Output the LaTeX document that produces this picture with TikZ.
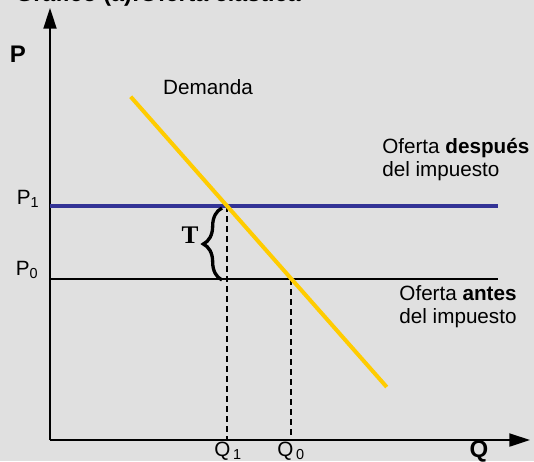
\documentclass[tikz,border=0pt]{standalone}
\usepackage{fontspec}
\setmainfont{Liberation Sans}
\newfontfamily\timesfont{Liberation Serif}
\usetikzlibrary{arrows.meta,calc,decorations.pathreplacing}
\definecolor{ecgray}{RGB}{224,224,224}
\definecolor{ecblue}{RGB}{51,51,150}
\definecolor{ecyellow}{RGB}{255,204,0}
\tikzset{
  axis/.style={line width=1.5pt,-{Triangle[length=15.5pt,width=9.75pt]}},
  dashline/.style={line width=1.1pt,dash pattern=on 4.5pt off 3pt},
  lbl/.style={inner sep=0pt},
  axislbl/.style={lbl,font=\fontsize{18}{20}\selectfont\bfseries},
}
\begin{document}
\begin{tikzpicture}[x=.75pt,y=-.75pt,font=\fontsize{15.5}{17.5}\selectfont]
        \fill[ecgray] (0,0) rectangle (534,461);
        \clip (0,0) rectangle (534,461);
        % title, cut at the top
        \node[lbl,anchor=base west,font=\fontsize{17.5}{20}\selectfont\bfseries] (title) at (15,1.5) {Gráfico (a):Oferta elástica};
        % axes
        \coordinate (O) at (50,440);
        \coordinate (ytop) at (50,8);
        \coordinate (xend) at (530,440);
        \draw[axis] (O) -- (ytop);
        \draw[axis] (O) -- (xend);
        \node[axislbl] (lblP) at (18,54) {P};
        \node[axislbl] (lblQ) at (479,451) {Q};
        % offer lines
        \coordinate (p1s) at (50,206); \coordinate (p1e) at (498,206);
        \coordinate (p0s) at (50,279); \coordinate (p0e) at (498,279);
        \draw[ecblue,line width=3pt] (p1s) -- (p1e);
        \draw[line width=1.5pt] (p0s) -- (p0e);
        % demand
        \coordinate (d1) at (130.7,96.7);
        \coordinate (d2) at (386.7,387);
        \coordinate (E1) at (227,206);
        \coordinate (E0) at (291,279);
        \draw[dashline] (E1) -- (E1 |- O);
        \draw[dashline] (E0) -- (E0 |- O);
        \draw[ecyellow,line width=3pt] (d1) -- (d2);
        % tax
        \coordinate (bt) at (222,208);
        \coordinate (bb) at (222,280);
        \draw[line width=2.5pt,decorate,decoration={brace,amplitude=14pt}] (bb) -- (bt);
        \node[lbl,font=\fontsize{19}{20}\selectfont\timesfont\bfseries] (lblT) at (190,235) {T};
        % labels
        \node[lbl] (lblPone) at (28,199) {P\textsubscript{1}};
        \node[lbl] (lblPzero) at (27,270) {P\textsubscript{0}};
        \node[lbl] (lblQone) at (228,451) {Q\kern2pt\textsubscript{1}};
        \node[lbl] (lblQzero) at (291,451) {Q\kern2pt\textsubscript{0}};
        \node[lbl] (lblDem) at (208,87) {Demanda};
        \node[lbl,anchor=north west,align=left] (lblOfDesp) at (382,138) {Oferta \textbf{después}\\del impuesto};
        \node[lbl,anchor=north,align=center] (lblOfAnt) at (458,285) {Oferta \textbf{antes}\\del impuesto};
      \end{tikzpicture}
\end{document}
